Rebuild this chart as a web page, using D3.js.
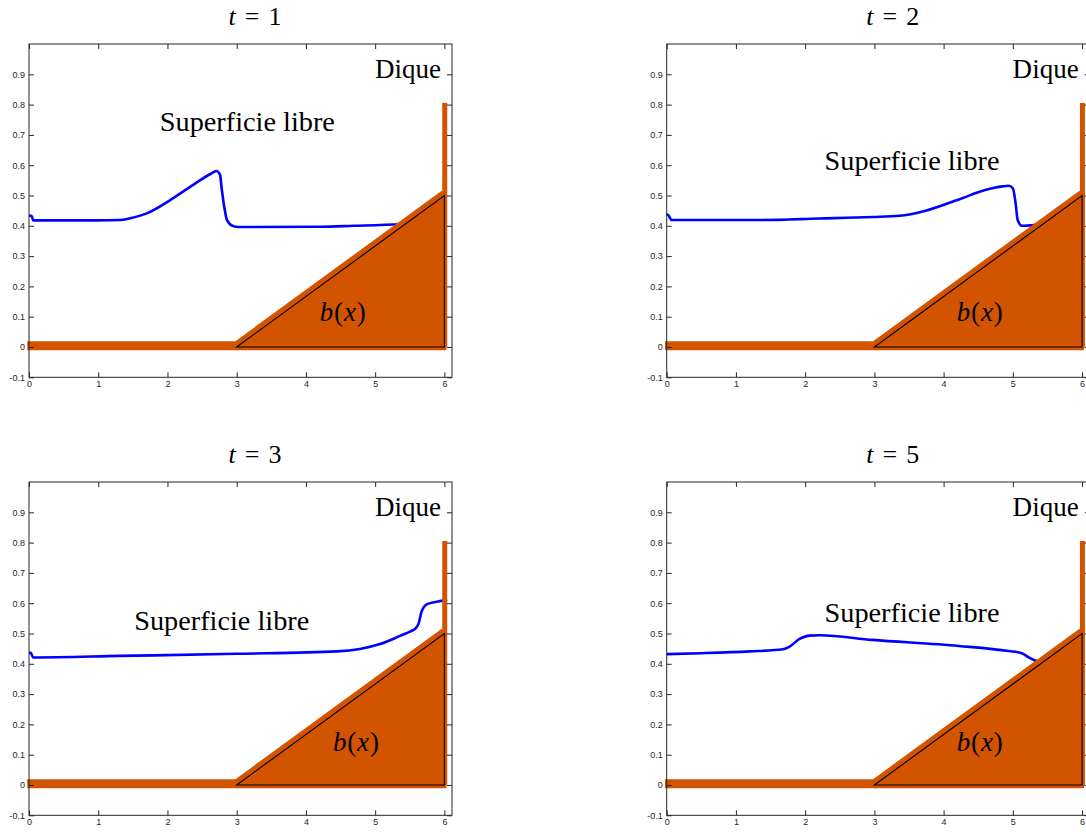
<!DOCTYPE html>
<html>
<head>
<meta charset="utf-8">
<script src="https://cdn.jsdelivr.net/npm/d3@7"></script>
<style>
  body { margin: 0; background: #fff; }
  svg { display: block; }
</style>
</head>
<body>
<div id="chart"></div>
<script>
var width = 1086, height = 832;

// free surface at each time: [x, eta]
var surf1 = [[0,0.434],[0.04,0.432],[0.06,0.418],[0.5,0.418],[1.0,0.418],[1.31,0.419],[1.46,0.425],[1.70,0.441],[2.04,0.485],[2.37,0.535],[2.62,0.571],[2.71,0.581],[2.76,0.568],[2.78,0.529],[2.82,0.463],[2.86,0.419],[2.95,0.399],[3.02,0.396],[4.21,0.397],[4.69,0.400],[5.36,0.405],[5.45,0.406]];
var surf2 = [[0,0.437],[0.02,0.436],[0.07,0.419],[1.34,0.419],[2.2,0.424],[2.97,0.429],[3.36,0.433],[3.74,0.450],[4.22,0.487],[4.60,0.518],[4.85,0.530],[4.94,0.532],[5.0,0.524],[5.04,0.474],[5.07,0.419],[5.13,0.400],[5.35,0.403],[5.45,0.405]];
var surf3 = [[0,0.437],[0.03,0.435],[0.06,0.421],[1.31,0.426],[3.0,0.433],[4.45,0.441],[4.78,0.449],[5.07,0.465],[5.36,0.492],[5.52,0.508],[5.58,0.516],[5.63,0.534],[5.67,0.572],[5.75,0.597],[5.89,0.605],[6.04,0.611]];
var surf5 = [[0,0.432],[0.5,0.435],[1.2,0.441],[1.68,0.448],[1.77,0.456],[1.92,0.482],[2.06,0.493],[2.21,0.494],[2.97,0.479],[4.22,0.459],[4.94,0.442],[5.13,0.435],[5.23,0.421],[5.35,0.409],[5.45,0.408]];

// bottom b(x) and dike
var bedX = [0, 3, 6];
var bedY = [0, 0, 0.5];
var dikeTop = 0.8;

var times = [1, 2, 3, 5];
var surfaces = [surf1, surf2, surf3, surf5];

var xTicks = [0, 1, 2, 3, 4, 5, 6];
var yTicks = [-0.1, 0, 0.1, 0.2, 0.3, 0.4, 0.5, 0.6, 0.7, 0.8, 0.9];
var yTickLabels = ["-0.1", "0", "0.1", "0.2", "0.3", "0.4", "0.5", "0.6", "0.7", "0.8", "0.9"];

// panel layout (left, top) and label anchors in data units
var panels = [
  {left: 29,    top: 44,  sx: 1.89, sy: 0.713, bx: 4.2,  by: 0.086},
  {left: 666.7, top: 44,  sx: 2.28, sy: 0.584, bx: 4.19, by: 0.086},
  {left: 29,    top: 482, sx: 1.52, sy: 0.512, bx: 4.39, by: 0.112},
  {left: 666.7, top: 482, sx: 2.28, sy: 0.538, bx: 4.19, by: 0.112}
];

var orange = "#d35400";
var serif = "'Liberation Serif', 'DejaVu Serif', serif";
var pw = 423, ph = 333.3;

var x = d3.scaleLinear().domain([0, 6.11]).range([0, pw]);
var y = d3.scaleLinear().domain([-0.1, 1.0]).range([ph, 0]);

var svg = d3.select("#chart").append("svg")
  .attr("width", width).attr("height", height)
  .attr("viewBox", [0, 0, width, height]);

var line = d3.line().x(function(d){ return x(d[0]); }).y(function(d){ return y(d[1]); });
var smooth = d3.line().curve(d3.curveMonotoneX)
  .x(function(d){ return x(d[0]); }).y(function(d){ return y(d[1]); });

panels.forEach(function(p, i) {
  var g = svg.append("g").attr("transform", "translate(" + p.left + "," + p.top + ")");

  // title
  var title = g.append("text")
    .attr("x", 226).attr("y", -19)
    .attr("text-anchor", "middle")
    .attr("textLength", 53)
    .attr("lengthAdjust", "spacing")
    .style("font-family", serif)
    .style("font-size", "26px");
  title.append("tspan").style("font-style", "italic").text("t");
  title.append("tspan").text(" = " + times[i]);

  // free surface
  g.append("path")
    .attr("d", smooth(surfaces[i]))
    .attr("fill", "none")
    .attr("stroke", "#0000ff")
    .attr("stroke-width", 2.6)
    .attr("stroke-linejoin", "round");

  // bottom fill (triangle)
  var tri = [[bedX[1], bedY[1]], [bedX[2], 0], [bedX[2], bedY[2]]];
  g.append("path")
    .attr("d", line(tri) + "Z")
    .attr("fill", orange);

  // thick bed line
  var bedLine = bedX.map(function(v, k){ return [v, bedY[k] + 0.004]; });
  bedLine[0][0] = -0.025;
  g.append("path")
    .attr("d", line(bedLine))
    .attr("fill", "none")
    .attr("stroke", orange)
    .attr("stroke-width", 9);
  g.append("path")
    .attr("d", line([[bedX[1], 0.004], [bedX[2] + 0.03, 0.004]]))
    .attr("fill", "none")
    .attr("stroke", orange)
    .attr("stroke-width", 9);

  // dike wall
  g.append("path")
    .attr("d", line([[bedX[2] + 0.005, 0], [bedX[2] + 0.005, dikeTop + 0.005]]))
    .attr("fill", "none")
    .attr("stroke", orange)
    .attr("stroke-width", 5);

  // black outline of b(x)
  g.append("path")
    .attr("d", line(tri) + "Z")
    .attr("fill", "none")
    .attr("stroke", "#000")
    .attr("stroke-width", 1.1);

  // labels
  g.append("text")
    .attr("x", x(p.sx)).attr("y", y(p.sy))
    .attr("textLength", 175)
    .attr("lengthAdjust", "spacingAndGlyphs")
    .style("font-family", serif)
    .style("font-size", "27px")
    .text("Superficie libre");

  var bt = g.append("text")
    .attr("x", x(p.bx)).attr("y", y(p.by))
    .attr("textLength", 46)
    .attr("lengthAdjust", "spacing")
    .style("font-family", serif)
    .style("font-size", "27px");
  bt.append("tspan").style("font-style", "italic").text("b");
  bt.append("tspan").text("(");
  bt.append("tspan").style("font-style", "italic").text("x");
  bt.append("tspan").text(")");

  g.append("text")
    .attr("x", x(5.95)).attr("y", y(0.9) + 4)
    .attr("text-anchor", "end")
    .attr("textLength", 66)
    .attr("lengthAdjust", "spacingAndGlyphs")
    .style("font-family", serif)
    .style("font-size", "27px")
    .text("Dique");

  // axes
  var ax = g.append("g").attr("class", "axes");
  ax.append("g")
    .attr("transform", "translate(0," + ph + ")")
    .call(d3.axisBottom(x).tickValues(xTicks).tickSize(-5).tickPadding(3).tickFormat(d3.format("d")));
  ax.append("g")
    .call(d3.axisTop(x).tickValues(xTicks).tickSize(-5).tickFormat(""));
  ax.append("g")
    .call(d3.axisLeft(y).tickValues(yTicks).tickSize(-5).tickPadding(4)
      .tickFormat(function(d, k){ return yTickLabels[k]; }));
  ax.append("g")
    .attr("transform", "translate(" + pw + ",0)")
    .call(d3.axisRight(y).tickValues(yTicks).tickSize(-5).tickFormat(""));

  ax.selectAll(".domain").remove();
  ax.selectAll("line").attr("stroke", "#262626");
  ax.selectAll("text")
    .attr("fill", "#262626")
    .style("font-family", "'Liberation Sans', Arial, sans-serif")
    .style("font-size", "9px");

  g.append("rect")
    .attr("x", 0).attr("y", 0).attr("width", pw).attr("height", ph)
    .attr("fill", "none")
    .attr("stroke", "#262626")
    .attr("stroke-width", 1);
});
</script>
</body>
</html>
